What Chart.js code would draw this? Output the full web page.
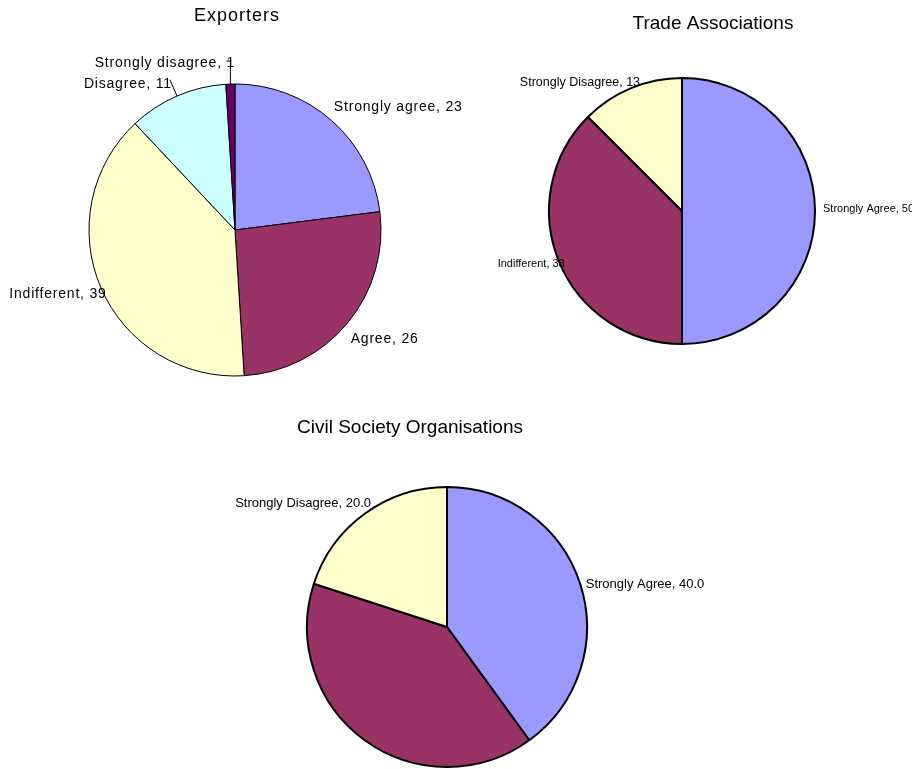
<!DOCTYPE html>
<html>
<head>
<meta charset="utf-8">
<title>Survey responses</title>
<script src="https://cdn.jsdelivr.net/npm/chart.js"></script>
<style>
  html, body { margin: 0; padding: 0; background: #fff; }
  #wrap { position: relative; width: 912px; height: 769px; overflow: hidden; }
  canvas { position: absolute; left: 0; top: 0; }
</style>
</head>
<body>
<div id="wrap">
  <canvas id="exporters" width="912" height="769"></canvas>
  <canvas id="trade" width="912" height="769"></canvas>
  <canvas id="civil" width="912" height="769"></canvas>
</div>
<script>
// data (percent of respondents)
const exporterLabels = ['Strongly agree', 'Agree', 'Indifferent', 'Disagree', 'Strongly disagree'];
const exporterValues = [23, 26, 39, 11, 1];

const tradeLabels = ['Strongly Agree', 'Indifferent', 'Strongly Disagree'];
const tradeValues = [50, 37.5, 12.5];

const civilLabels = ['Strongly Agree', 'Indifferent', 'Strongly Disagree'];
const civilValues = [40, 40, 20];

const FONT = '"Liberation Sans", Arial, sans-serif';

// old excel palette
const BLUE = '#9999ff', PLUM = '#993366', CREAM = '#ffffcc', ICE = '#ccffff', PURPLE = '#660066';

// draws a title at a fixed spot of the canvas
function captionPlugin(cfg) {
  return {
    id: 'caption',
    afterDraw(chart) {
      const ctx = chart.ctx;
      ctx.save();
      ctx.font = cfg.size + 'px ' + FONT;
      ctx.letterSpacing = (cfg.spacing || 0) + 'px';
      ctx.fillStyle = '#000';
      ctx.textAlign = 'center';
      ctx.textBaseline = 'alphabetic';
      ctx.fillText(cfg.text, cfg.x, cfg.y);
      ctx.restore();
    }
  };
}

// "Label, value" outside each slice, placed from the arc geometry
function sliceLabelPlugin(cfg) {
  return {
    id: 'sliceLabels',
    afterDatasetsDraw(chart) {
      const ctx = chart.ctx;
      const meta = chart.getDatasetMeta(0);
      const values = chart.data.datasets[0].data;
      meta.data.forEach((arc, i) => {
        if (cfg.skip && cfg.skip.includes(i)) return;
        const p = arc.getProps(['x', 'y', 'startAngle', 'endAngle', 'outerRadius'], true);
        const mid = (p.startAngle + p.endAngle) / 2;
        const dx = Math.cos(mid), dy = Math.sin(mid);
        const size = cfg.sizes ? cfg.sizes[i] : cfg.size;
        ctx.save();
        ctx.font = size + 'px ' + FONT;
        ctx.letterSpacing = (cfg.spacing || 0) + 'px';
        const text = chart.data.labels[i] + ', ' + values[i].toFixed(cfg.decimals);
        const w = ctx.measureText(text).width;
        const px = p.x + (p.outerRadius + cfg.gap) * dx;
        const py = p.y + (p.outerRadius + cfg.gap) * dy;
        const hf = dx >= 0 ? 0 : 1;
        const vf = Math.min(1, Math.max(0, 0.5 - dy * 1.5));
        const nudge = (cfg.nudge && cfg.nudge[i]) || [0, 0];
        const left = px - w * hf + nudge[0];
        const midY = py - size * vf + size / 2 + nudge[1];
        ctx.fillStyle = '#000';
        ctx.textAlign = 'left';
        ctx.textBaseline = 'alphabetic';
        ctx.fillText(text, left, midY + size * 0.36);

        // leader lines for the thin slices
        const kind = cfg.leaders && cfg.leaders[i];
        if (kind) {
          const ex = p.x + p.outerRadius * dx, ey = p.y + p.outerRadius * dy;
          ctx.strokeStyle = '#000';
          ctx.lineWidth = 1;
          ctx.beginPath();
          if (kind === 'elbow') {
            ctx.moveTo(ex - 4, midY - 1);
            ctx.lineTo(ex, midY - 1);
            ctx.lineTo(ex, ey);
          } else {
            ctx.moveTo(left + w - 2, midY - 3);
            ctx.lineTo(ex, ey);
          }
          ctx.stroke();
        }
        ctx.restore();
      });
    }
  };
}

function makePie(id, labels, values, colors, style) {
  return new Chart(document.getElementById(id), {
    type: 'pie',
    data: {
      labels: labels,
      datasets: [{
        data: values,
        backgroundColor: colors,
        borderColor: '#000',
        borderWidth: style.border
      }]
    },
    options: {
      responsive: false,
      animation: false,
      events: [],
      radius: style.radius,
      layout: { padding: style.padding },
      plugins: {
        legend: { display: false },
        tooltip: { enabled: false },
        title: { display: false }
      }
    },
    plugins: [captionPlugin(style.title), sliceLabelPlugin(style.labels)]
  });
}

makePie('exporters', exporterLabels, exporterValues, [BLUE, PLUM, CREAM, ICE, PURPLE], {
  border: 1,
  radius: 146,
  padding: { left: 0, right: 442, top: 0, bottom: 309 },
  title: { text: 'Exporters', x: 237, y: 21, size: 18, spacing: 1 },
  labels: {
    size: 14, spacing: 0.8, gap: 8, decimals: 0,
    nudge: [[-3, -2], [-3, 3], [13, -5], [-2, 1], [5, -7]],
    leaders: { 3: 'straight', 4: 'elbow' }
  }
});

makePie('trade', tradeLabels, tradeValues, [BLUE, PLUM, CREAM], {
  border: 2,
  radius: 133,
  padding: { left: 452, right: 0, top: 0, bottom: 347 },
  title: { text: 'Trade Associations', x: 713, y: 29, size: 19 },
  labels: {
    sizes: [11, 11, 12.5], gap: 8, decimals: 0,
    nudge: [[0, -3], [13, -7.5], [12, 7.5]]
  }
});

makePie('civil', civilLabels, civilValues, [BLUE, PLUM, CREAM], {
  border: 2,
  radius: 140,
  padding: { left: 305, right: 323, top: 485, bottom: 0 },
  title: { text: 'Civil Society Organisations', x: 410, y: 433, size: 19 },
  labels: {
    size: 13, gap: 8, decimals: 1,
    skip: [1],
    nudge: [[-2, 8], [0, 0], [11, 2]]
  }
});
</script>
</body>
</html>
